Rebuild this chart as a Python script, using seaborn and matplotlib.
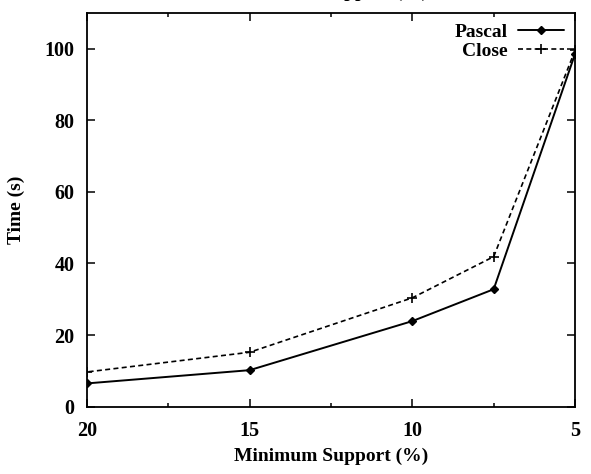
import pandas as pd
import matplotlib
matplotlib.use('Agg')
import matplotlib.pyplot as plt
import seaborn as sns

# Chart data
support = [20, 15, 10, 7.5, 5]
pascal_time = [6.5, 10.2, 23.9, 32.8, 98.5]
close_time = [9.7, 15.2, 30.4, 41.9, 99.5]

sns.set_style('ticks')
plt.rcParams['font.family'] = ['Liberation Serif', 'DejaVu Serif']
plt.rcParams['font.weight'] = 'bold'
plt.rcParams['axes.labelweight'] = 'bold'
plt.rcParams['text.color'] = 'black'
plt.rcParams['axes.labelcolor'] = 'black'
plt.rcParams['xtick.color'] = 'black'
plt.rcParams['ytick.color'] = 'black'
plt.rcParams['xtick.direction'] = 'in'
plt.rcParams['ytick.direction'] = 'in'

fig = plt.figure(figsize=(5.91, 4.74), dpi=100)
ax = fig.add_axes([0.147, 0.142, 0.826, 0.831])

sns.lineplot(x=support, y=pascal_time, ax=ax, color='black', lw=1.4,
             marker='D', markersize=4, markeredgewidth=1,
             markeredgecolor='black', markerfacecolor='black', label='Pascal')
sns.lineplot(x=support, y=close_time, ax=ax, color='black', lw=1.2,
             linestyle=(0, (3, 2)), marker='+', markersize=6.5,
             markeredgewidth=1.2, markeredgecolor='black', label='Close')

ax.set_xlim(20, 5)
ax.set_ylim(0, 110)
ax.set_xticks([20, 15, 10, 5])
ax.set_xticks([17.5, 12.5, 7.5], minor=True)
ax.set_yticks([0, 20, 40, 60, 80, 100])
ax.tick_params(axis='both', which='both', top=True, right=True,
               width=1.1, labelsize=14.5)
ax.tick_params(axis='y', pad=9)
ax.tick_params(axis='x', pad=10)
ax.tick_params(which='major', length=6)
ax.tick_params(which='minor', length=3)
for s in ax.spines.values():
    s.set_linewidth(1.3)
    s.set_color('black')

ax.set_xlabel('Minimum Support (%)', fontsize=14, labelpad=5)
ax.set_ylabel('Time (s)', fontsize=14, labelpad=14)

leg = ax.legend(loc='upper right', frameon=False, markerfirst=False,
                prop={'size': 14, 'weight': 'bold'}, handlelength=2.4,
                borderaxespad=0.15, labelspacing=0.05, handletextpad=0.5)

# cropped title from the figure above, only its lower edge shows
fig.text(0.56, 1.016, 'Minimum Support (%)', ha='center', va='center',
         fontsize=14)

fig.savefig('out.png', dpi=100)
